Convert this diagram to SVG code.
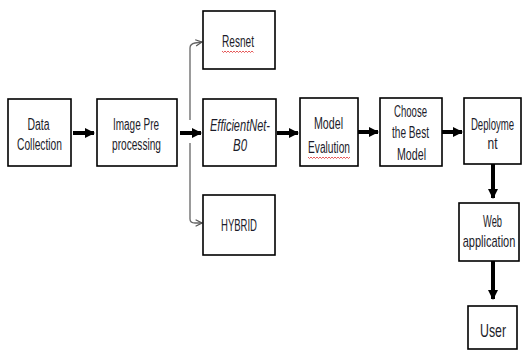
<svg xmlns="http://www.w3.org/2000/svg" width="522" height="351" viewBox="0 0 522 351">
<defs>
<style>
.box{fill:#fff;stroke:#000;stroke-width:1.6}
.t{font-family:"Liberation Sans",Arial,sans-serif;font-size:16px;fill:#1c1c2a;text-anchor:middle}
.it{font-style:italic}
.thick{stroke:#000;stroke-width:4;fill:none}
.thin{stroke:#666;stroke-width:1.3;fill:none}
.sq{stroke:#e03030;stroke-width:0.8;fill:none}
</style>
<marker id="ah" viewBox="0 0 10 10" refX="9" refY="5" markerWidth="10" markerHeight="10" markerUnits="userSpaceOnUse" orient="auto">
<path d="M0,0 L10,5 L0,10 Z" fill="#000"/>
</marker>
<marker id="oh" viewBox="0 0 10 10" refX="9" refY="5" markerWidth="8" markerHeight="8" markerUnits="userSpaceOnUse" orient="auto">
<path d="M1,1 L9,5 L1,9" fill="none" stroke="#555" stroke-width="1.5"/>
</marker>
</defs>
<rect width="522" height="351" fill="#fff"/>
<g id="connectors">
<line class="thick" x1="73" y1="133" x2="94" y2="133" marker-end="url(#ah)"/>
<line class="thick" x1="180" y1="133" x2="201" y2="133" marker-end="url(#ah)"/>
<path class="thin" d="M190,120 L190,48 Q190,44 195,43 L202,42" marker-end="url(#oh)"/>
<path class="thin" d="M190,143 L190,219 Q190,223 195,223 L202,223" marker-end="url(#oh)"/>
<line class="thick" x1="277" y1="133" x2="298" y2="133" marker-end="url(#ah)"/>
<line class="thick" x1="358" y1="132" x2="378" y2="132" marker-end="url(#ah)"/>
<line class="thick" x1="442" y1="132" x2="462" y2="132" marker-end="url(#ah)"/>
<line class="thick" x1="493" y1="164" x2="493" y2="198" marker-end="url(#ah)"/>
<line class="thick" x1="493" y1="261" x2="493" y2="299" marker-end="url(#ah)"/>
</g>
<g id="data-collection">
<rect class="box" x="8" y="99" width="63" height="67"/>
<text class="t" x="38.5" y="130" textLength="22" lengthAdjust="spacingAndGlyphs">Data</text>
<text class="t" x="39.5" y="150" textLength="45" lengthAdjust="spacingAndGlyphs">Collection</text>
</g>
<g id="image-pre-processing">
<rect class="box" x="97" y="99" width="80" height="67"/>
<text class="t" x="136" y="130" textLength="46" lengthAdjust="spacingAndGlyphs">Image Pre</text>
<text class="t" x="136.5" y="150" textLength="49" lengthAdjust="spacingAndGlyphs">processing</text>
</g>
<g id="resnet">
<rect class="box" x="203" y="11" width="72" height="58"/>
<text class="t" x="238" y="47" textLength="32" lengthAdjust="spacingAndGlyphs">Resnet</text>
<path class="sq" d="M222,51 l1.5,1.5 l1.5,-1.5 l1.5,1.5 l1.5,-1.5 l1.5,1.5 l1.5,-1.5 l1.5,1.5 l1.5,-1.5 l1.5,1.5 l1.5,-1.5 l1.5,1.5 l1.5,-1.5 l1.5,1.5 l1.5,-1.5 l1.5,1.5 l1.5,-1.5 l1.5,1.5 l1.5,-1.5 l1.5,1.5 l1.5,-1.5 l1.5,1.5"/>
</g>
<g id="efficientnet-b0">
<rect class="box" x="203" y="99" width="73" height="67"/>
<text class="t it" x="240" y="131" textLength="60" lengthAdjust="spacingAndGlyphs">EfficientNet-</text>
<text class="t it" x="240" y="151" textLength="14" lengthAdjust="spacingAndGlyphs">B0</text>
</g>
<g id="hybrid">
<rect class="box" x="203" y="195" width="72" height="60"/>
<text class="t" x="239" y="231" textLength="36" lengthAdjust="spacingAndGlyphs">HYBRID</text>
</g>
<g id="model-evaluation">
<rect class="box" x="300" y="98" width="58" height="68"/>
<text class="t" x="328.5" y="129" textLength="29" lengthAdjust="spacingAndGlyphs">Model</text>
<text class="t" x="329" y="153" textLength="42" lengthAdjust="spacingAndGlyphs">Evalution</text>
<path class="sq" d="M308,157 l1.5,1.5 l1.5,-1.5 l1.5,1.5 l1.5,-1.5 l1.5,1.5 l1.5,-1.5 l1.5,1.5 l1.5,-1.5 l1.5,1.5 l1.5,-1.5 l1.5,1.5 l1.5,-1.5 l1.5,1.5 l1.5,-1.5 l1.5,1.5 l1.5,-1.5 l1.5,1.5 l1.5,-1.5 l1.5,1.5 l1.5,-1.5 l1.5,1.5 l1.5,-1.5 l1.5,1.5 l1.5,-1.5 l1.5,1.5 l1.5,-1.5 l1.5,1.5 l1.5,-1.5"/>
</g>
<g id="choose-best-model">
<rect class="box" x="380" y="98" width="62" height="68"/>
<text class="t" x="410.5" y="117" textLength="33" lengthAdjust="spacingAndGlyphs">Choose</text>
<text class="t" x="410.5" y="138" textLength="37" lengthAdjust="spacingAndGlyphs">the Best</text>
<text class="t" x="411.5" y="160" textLength="29" lengthAdjust="spacingAndGlyphs">Model</text>
</g>
<g id="deployment">
<rect class="box" x="464" y="98" width="57" height="66"/>
<text class="t" transform="translate(492.5,130) scale(0.6,1)" x="0" y="0">Deployme</text>
<text class="t" x="492.5" y="149" textLength="10" lengthAdjust="spacingAndGlyphs">nt</text>
</g>
<g id="web-application">
<rect class="box" x="459" y="203" width="60" height="58"/>
<text class="t" x="492.5" y="227" textLength="19" lengthAdjust="spacingAndGlyphs">Web</text>
<text class="t" transform="translate(489,247) scale(0.69,1)" x="0" y="0">application</text>
</g>
<g id="user">
<rect class="box" x="468" y="306" width="49" height="43"/>
<text class="t" x="493" y="337" style="font-size:19px" textLength="26" lengthAdjust="spacingAndGlyphs">User</text>
</g>
</svg>
